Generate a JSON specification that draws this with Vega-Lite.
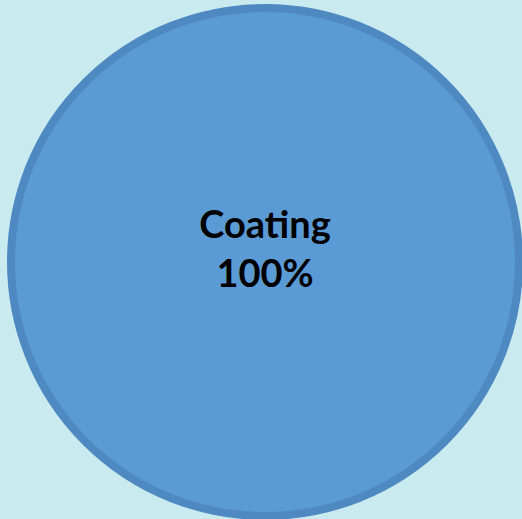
{
  "$schema": "https://vega.github.io/schema/vega-lite/v6.json",
  "width": 522,
  "height": 519,
  "autosize": {"type": "fit", "contains": "padding"},
  "padding": {"left": 8, "top": 5, "right": 0, "bottom": 0},
  "background": "#c9eaef",
  "view": {"stroke": null},
  "data": {"values": [{"category": "Coating", "value": 100, "pct": "100%"}]},
  "encoding": {
    "theta": {"field": "value", "type": "quantitative", "stack": true}
  },
  "layer": [
    {
      "mark": {"type": "arc", "radius": 254, "stroke": "#4f89c1", "strokeWidth": 8, "fill": "#5b9bd5"},
      "encoding": {}
    },
    {
      "mark": {"type": "text", "radius": 0, "dy": -24, "baseline": "alphabetic", "font": "Lato", "fontWeight": "bold", "fontSize": 38, "color": "#000000"},
      "encoding": {"text": {"field": "category"}}
    },
    {
      "mark": {"type": "text", "radius": 0, "dy": 25, "baseline": "alphabetic", "font": "Lato", "fontWeight": "bold", "fontSize": 38, "color": "#000000"},
      "encoding": {"text": {"field": "pct"}}
    }
  ]
}
